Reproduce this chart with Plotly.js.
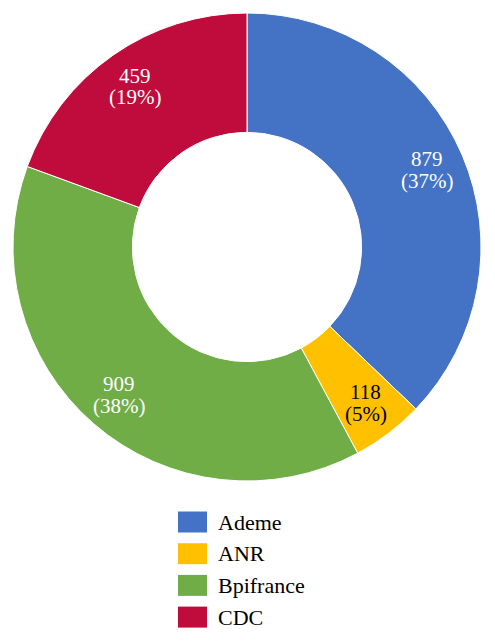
<!DOCTYPE html>
<html>
<head>
<meta charset="utf-8">
<script src="https://cdn.plot.ly/plotly-3.0.1.min.js"></script>
<style>html,body{margin:0;padding:0;background:#fff;}#chart{width:495px;height:644px;}</style>
</head>
<body>
<div id="chart"></div>
<script>
const categories = ["Ademe", "ANR", "Bpifrance", "CDC"];
const values = [879, 118, 909, 459];
const colors = ["#4472C4", "#FFC000", "#70AD47", "#C00C3C"];
const textColors = ["#ffffff", "#000000", "#ffffff", "#ffffff"];

const W = 495, H = 644;
const FONT = "Liberation Serif";
const px = x => x / W;
const py = y => 1 - y / H;

// pie geometry (pixels)
const CX = 247, CY = 247, R = 234, LABEL_R = 196, HALF_LINE = 10.8;

const trace = {
  type: "pie",
  labels: categories,
  values: values,
  hole: 0.49,
  sort: false,
  direction: "clockwise",
  rotation: 0,
  marker: { colors: colors, line: { color: "#ffffff", width: 1 } },
  textinfo: "none",
  hoverinfo: "label+value+percent",
  showlegend: false,
  domain: { x: [px(CX - R), px(CX + R)], y: [py(CY + R), py(CY - R)] }
};

const shapes = [], annotations = [];

// slice labels: value and rounded percent, placed at slice mid-angle
const total = values.reduce((a, b) => a + b, 0);
let cum = 0;
values.forEach((v, i) => {
  const mid = (cum + v / 2) / total * 2 * Math.PI;
  cum += v;
  const x = CX + LABEL_R * Math.sin(mid);
  const y = CY - LABEL_R * Math.cos(mid);
  const lines = [String(v), "(" + Math.round(v / total * 100) + "%)"];
  lines.forEach((t, k) => {
    annotations.push({
      xref: "paper", yref: "paper", x: px(x), y: py(y + (k === 0 ? -HALF_LINE : HALF_LINE)),
      xanchor: "center", yanchor: "middle", showarrow: false,
      text: t,
      font: { family: FONT, size: 21, color: textColors[i] }
    });
  });
});

// legend
const rowStart = 522, rowStep = 31.7;
categories.forEach((c, i) => {
  const cy = rowStart + i * rowStep;
  shapes.push({
    type: "rect", xref: "paper", yref: "paper",
    x0: px(178), x1: px(207), y0: py(cy + 10.5), y1: py(cy - 10.5),
    fillcolor: colors[i], line: { width: 0 }
  });
  annotations.push({
    xref: "paper", yref: "paper", x: px(216), y: py(cy),
    xanchor: "left", yanchor: "middle", showarrow: false,
    text: c, font: { family: FONT, size: 22, color: "#000000" }
  });
});

const layout = {
  width: W, height: H,
  margin: { l: 0, r: 0, t: 0, b: 0 },
  paper_bgcolor: "#ffffff",
  showlegend: false,
  shapes: shapes,
  annotations: annotations,
  font: { family: FONT }
};

Plotly.newPlot("chart", [trace], layout, { displayModeBar: false, staticPlot: true });
</script>
</body>
</html>
